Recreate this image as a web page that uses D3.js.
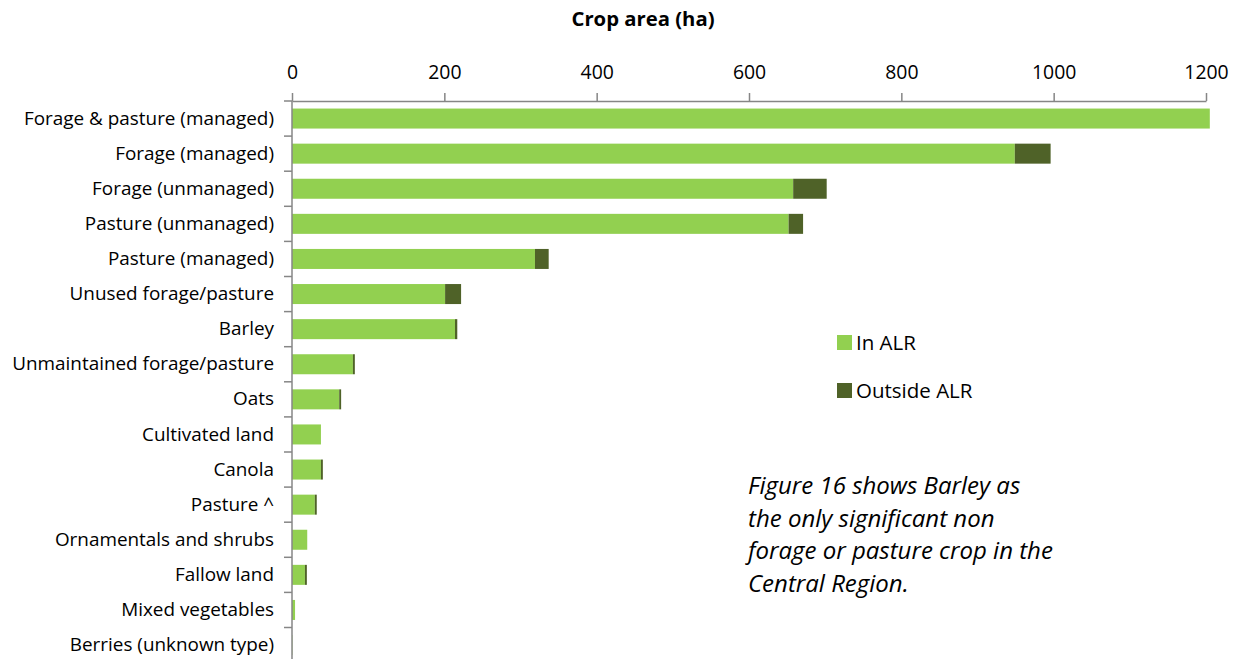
<!DOCTYPE html>
<html>
<head>
<meta charset="utf-8">
<script src="https://cdn.jsdelivr.net/npm/d3@7"></script>
<style>
  html, body { margin: 0; padding: 0; background: #fff; }
  svg { display: block; font-family: "Open Sans", Lato, sans-serif; }
</style>
</head>
<body>
<svg id="chart" width="1243" height="659"></svg>
<script>
// Crop area by type, split by Agricultural Land Reserve status (ha)
const categories = [
  "Forage & pasture (managed)",
  "Forage (managed)",
  "Forage (unmanaged)",
  "Pasture (unmanaged)",
  "Pasture (managed)",
  "Unused forage/pasture",
  "Barley",
  "Unmaintained forage/pasture",
  "Oats",
  "Cultivated land",
  "Canola",
  "Pasture ^",
  "Ornamentals and shrubs",
  "Fallow land",
  "Mixed vegetables",
  "Berries (unknown type)"
];
const inALR      = [1205, 949, 658, 652, 319, 201, 214, 80, 62, 38, 38, 30, 20, 17, 4, 0.5];
const outsideALR = [0, 47, 44, 19, 18, 21, 3, 2.5, 2.5, 0, 2.5, 2.5, 0, 2.5, 0, 0];
const seriesNames = ["In ALR", "Outside ALR"];
const seriesColors = ["#92D050", "#4F6228"];
const xTicks = [0, 200, 400, 600, 800, 1000, 1200];

const rows = categories.map((c, i) => ({ category: c, "In ALR": inALR[i], "Outside ALR": outsideALR[i] }));

const svg = d3.select("#chart");
const plotLeft = 292, plotRight = 1206, plotTop = 101;
const rowStep = 35.1;
const plotBottom = plotTop + rowStep * categories.length;
const fontFamily = "'Open Sans', Lato, sans-serif";

const x = d3.scaleLinear().domain([0, 1200]).range([plotLeft, plotRight]);
const y = d3.scaleBand().domain(categories).range([plotTop, plotBottom])
  .paddingInner(0.43).paddingOuter(0.215);

const stack = d3.stack().keys(seriesNames)(rows);

// bars
svg.append("g").selectAll("g")
  .data(stack)
  .join("g")
  .attr("fill", (d, i) => seriesColors[i])
  .selectAll("rect")
  .data(d => d)
  .join("rect")
  .attr("x", d => x(d[0]))
  .attr("y", d => y(d.data.category))
  .attr("width", d => Math.max(0, x(d[1]) - x(d[0])))
  .attr("height", y.bandwidth());

const axisColor = "#868686";

// top value axis
const xAxis = svg.append("g")
  .attr("transform", `translate(0,${plotTop})`)
  .call(d3.axisTop(x).tickValues(xTicks).tickSize(8).tickSizeOuter(0).tickPadding(14).tickFormat(d3.format("d")));
xAxis.select(".domain").attr("stroke", axisColor).attr("stroke-width", 1.5);
xAxis.selectAll(".tick line").attr("stroke", axisColor).attr("stroke-width", 1.5);
xAxis.selectAll(".tick text")
  .attr("fill", "#000")
  .style("font-size", "19.4px")
  .style("font-family", fontFamily);

// left category axis: labels plus ticks at band boundaries
const yAxis = svg.append("g")
  .attr("transform", `translate(${plotLeft},0)`)
  .call(d3.axisLeft(y).tickSize(0).tickPadding(18));
yAxis.select(".domain").remove();
yAxis.selectAll(".tick text")
  .attr("fill", "#000")
  .style("font-size", "18.9px")
  .style("font-family", fontFamily);

svg.append("line")
  .attr("x1", plotLeft).attr("x2", plotLeft)
  .attr("y1", plotTop).attr("y2", plotBottom)
  .attr("stroke", axisColor).attr("stroke-width", 1.5);

svg.append("g").selectAll("line")
  .data(d3.range(categories.length + 1))
  .join("line")
  .attr("x1", plotLeft - 8).attr("x2", plotLeft)
  .attr("y1", i => plotTop + i * y.step())
  .attr("y2", i => plotTop + i * y.step())
  .attr("stroke", axisColor).attr("stroke-width", 1.5);

// axis title
svg.append("text")
  .attr("x", 643).attr("y", 26)
  .attr("text-anchor", "middle")
  .style("font-size", "20.3px")
  .style("font-weight", "bold")
  .text("Crop area (ha)");

// legend
const legend = svg.append("g").selectAll("g")
  .data(seriesNames)
  .join("g")
  .attr("transform", (d, i) => `translate(837,${335 + i * 48})`);
legend.append("rect")
  .attr("width", 15).attr("height", 15)
  .attr("fill", (d, i) => seriesColors[i]);
legend.append("text")
  .attr("x", 19).attr("y", 14.5)
  .style("font-size", "20.5px")
  .text(d => d);

// note
const noteLines = [
  "Figure 16 shows Barley as",
  "the only significant non",
  "forage or pasture crop in the",
  "Central Region."
];
svg.append("g").selectAll("text")
  .data(noteLines)
  .join("text")
  .attr("x", 748)
  .attr("y", (d, i) => 494 + i * 32.5)
  .style("font-size", "24px")
  .style("font-style", "italic")
  .text(d => d);
</script>
</body>
</html>
